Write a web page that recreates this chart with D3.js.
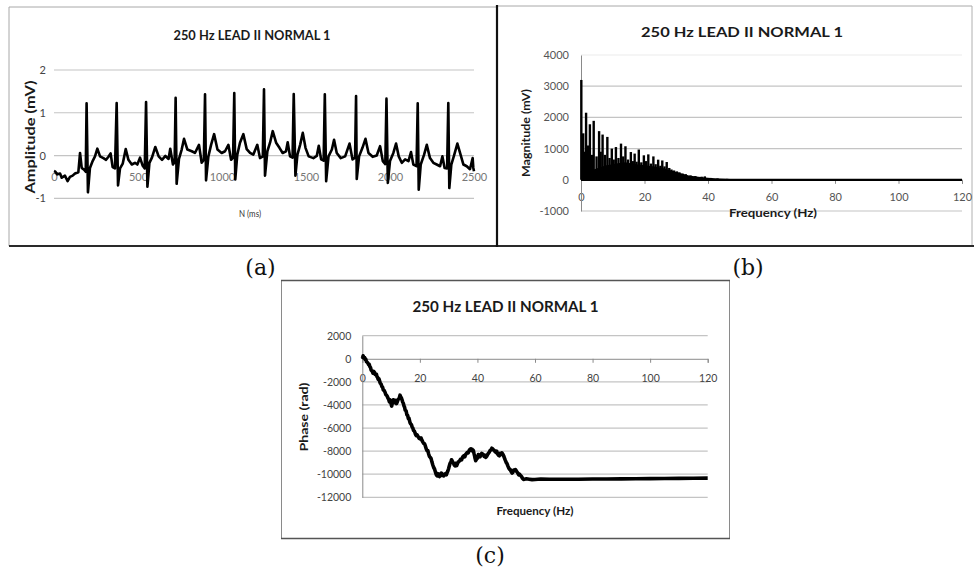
<!DOCTYPE html>
<html>
<head>
<meta charset="utf-8">
<script src="https://cdn.jsdelivr.net/npm/d3@7"></script>
<style>
  body { margin: 0; background: #fff; }
  svg text { font-family: Lato, "Open Sans", sans-serif; }
</style>
</head>
<body>
<div id="fig"></div>
<script>
// Set up the SVG container
var width = 974;
var height = 571;

var titleText = "250 Hz LEAD II NORMAL 1";

// (a) ECG trace, [sample N, amplitude mV]
var ecg = [
  [0,-0.36],[6,-0.37],[20,-0.44],[36,-0.42],[46,-0.52],[65,-0.47],[81,-0.6],[95,-0.5],[111,-0.47],[125,-0.42],
  [145,-0.39],[155,0.06],[165,-0.29],[179,-0.33],[189,-0.38],[194,1.22],[202,-0.86],[214,-0.29],[230,-0.13],
  [244,-0.02],[258,0.16],[274,-0.02],[294,-0.06],[310,-0.1],[324,-0.03],[337,0.05],[349,-0.27],[363,-0.3],
  [373,1.23],[381,-0.7],[393,-0.3],[409,-0.19],[427,0.15],[443,-0.1],[463,-0.21],[482,-0.17],[496,-0.21],
  [512,-0.05],[528,-0.24],[540,-0.3],[548,1.25],[556,-0.73],[568,-0.17],[583,-0.05],[603,0.2],[623,-0.02],
  [643,-0.1],[663,-0.01],[682,-0.08],[692,0.16],[708,-0.21],[718,-0.15],[724,1.35],[730,-0.66],[744,-0.08],
  [760,0.14],[774,0.39],[794,0.14],[820,0.1],[839,0.06],[863,0.25],[879,-0.17],[892,-0.1],[899,1.43],
  [905,-0.58],[919,-0.02],[935,0.25],[953,0.5],[973,0.14],[998,0.06],[1018,0.1],[1038,0.25],[1054,-0.1],
  [1066,-0.05],[1073,1.46],[1079,-0.56],[1091,0.02],[1107,0.3],[1127,0.5],[1147,0.15],[1167,0.06],[1186,0.02],
  [1210,0.25],[1226,-0.06],[1243,-0.02],[1250,1.55],[1256,-0.47],[1270,0.1],[1286,0.3],[1302,0.57],[1322,0.3],
  [1342,0.18],[1361,0.06],[1381,0.1],[1391,0.31],[1405,-0.02],[1420,-0.05],[1427,1.44],[1437,-0.47],[1449,0.02],
  [1465,0.25],[1481,0.53],[1497,0.18],[1516,-0.02],[1544,-0.06],[1564,-0.01],[1576,0.23],[1590,-0.09],
  [1605,-0.12],[1612,1.43],[1620,-0.6],[1634,-0.02],[1654,0.14],[1667,0.37],[1683,0.06],[1707,-0.06],
  [1733,-0.02],[1759,0.28],[1777,-0.09],[1792,-0.05],[1798,1.39],[1802,-0.55],[1816,-0.02],[1836,0.18],
  [1854,0.39],[1872,0.06],[1897,-0.03],[1921,0],[1941,0.22],[1957,-0.13],[1972,-0.2],[1979,1.33],[1987,-0.64],
  [2000,-0.13],[2020,0.06],[2036,0.28],[2052,-0.02],[2070,-0.17],[2090,-0.09],[2110,-0.13],[2125,0.08],
  [2139,-0.21],[2158,-0.25],[2165,1.22],[2171,-0.8],[2183,-0.21],[2203,0.02],[2219,0.25],[2238,-0.06],
  [2258,-0.17],[2278,-0.21],[2298,-0.25],[2312,-0.02],[2325,-0.29],[2340,-0.3],[2347,1.23],[2353,-0.76],
  [2365,-0.21],[2381,0],[2401,0.28],[2417,0.06],[2437,-0.21],[2457,-0.25],[2476,-0.32],[2492,-0.06],
  [2496,-0.29],[2500,-0.37]
];
var ecgTicksX = [0, 500, 1000, 1500, 2000, 2500];
var ecgTicksY = [-1, 0, 1, 2];

// (b) magnitude spectrum: spike tops [Hz, mV] and the dense floor under them
var spikes = [
  [0.1,3200],[0.7,1490],[1.1,900],[1.6,2150],[2.2,1100],[2.8,1780],[3.4,800],[4.0,1890],[4.9,750],
  [5.7,1560],[6.2,900],[6.8,1450],[7.5,800],[8.3,1375],[9.0,700],[9.7,1000],[10.3,650],[11.0,1050],
  [11.8,700],[12.6,1160],[13.3,750],[14.0,1075],[14.8,650],[15.7,890],[16.3,600],[16.9,840],[17.5,580],
  [18.2,970],[19.0,560],[19.8,785],[20.5,600],[21.2,815],[22.0,520],[22.8,750],[23.5,500],[24.3,645],
  [25.0,450],[25.6,620],[26.3,430],[27.0,570],[27.8,380],[28.5,330],[29.3,300],[30.2,270],[31.0,240],
  [32.0,200],[33.0,180],[34.5,140],[36,120],[38,100],[39,110],[41,60],[43,45],[46,30],[49,20]
];
var spikeFloor = [
  [0,300],[1,200],[2,230],[3,280],[4,330],[6,400],[8,470],[10,500],[12,540],[14,560],[16,520],[18,490],
  [20,470],[22,440],[24,410],[26,370],[28,310],[30,250],[32,190],[34,140],[37,95],[40,65],[43,45],
  [47,28],[52,14],[60,7],[80,5],[120,4]
];
var freqTicks = [0, 20, 40, 60, 80, 100, 120];
var magTicks = [-1000, 0, 1000, 2000, 3000, 4000];

// (c) phase [Hz, rad]
var phase = [
  [0,200],[0.15,120],[0.3,260],[0.55,80],[0.8,100],[1.0,-60],[1.2,-30],[1.45,-250],[1.7,-300],[1.95,-380],
  [2.2,-500],[2.4,-480],[2.6,-670],[2.85,-760],[3.1,-1000],[3.4,-1050],[3.7,-1250],[3.95,-1100],[4.2,-1150],
  [4.45,-1350],[4.7,-1400],[4.9,-1330],[5.1,-1550],[5.3,-1600],[5.5,-1780],[5.75,-1720],[6.0,-1900],
  [6.15,-2050],[6.3,-2130],[6.55,-2200],[6.8,-2400],[7.05,-2450],[7.3,-2700],[7.6,-2750],[7.9,-2900],
  [8.15,-3100],[8.4,-3150],[8.65,-3250],[8.9,-3400],[9.15,-3500],[9.4,-3730],[9.6,-3550],[9.8,-3600],
  [10.0,-3900],[10.2,-4100],[10.4,-3850],[10.6,-3800],[10.8,-3550],[11.0,-3590],[11.25,-3800],[11.5,-3750],
  [11.7,-3600],[11.9,-3880],[12.2,-3700],[12.5,-3500],[12.8,-3450],[13.1,-3150],[13.35,-3300],[13.6,-3400],
  [13.8,-3550],[14.0,-3730],[14.25,-3850],[14.5,-4100],[14.7,-4200],[14.9,-4460],[15.2,-4500],[15.5,-4850],
  [15.75,-4900],[16.0,-5190],[16.2,-5150],[16.4,-5350],[16.6,-5550],[16.8,-5630],[17.05,-5700],[17.3,-5900],
  [17.55,-6000],[17.8,-6210],[18.05,-6250],[18.3,-6400],[18.5,-6550],[18.7,-6650],[19.05,-6600],[19.4,-6750],
  [19.75,-6900],[20.1,-6940],[20.4,-6850],[20.7,-7050],[21.0,-7200],[21.3,-7320],[21.6,-7350],[21.9,-7550],
  [22.2,-7800],[22.5,-7960],[22.75,-7950],[23.0,-8200],[23.3,-8450],[23.6,-8540],[23.9,-8650],[24.2,-8950],
  [24.5,-9200],[24.8,-9420],[25.1,-9550],[25.4,-9800],[25.7,-10050],[26.0,-10150],[26.25,-9950],[26.5,-10050],
  [26.8,-10200],[27.1,-10000],[27.4,-9900],[27.7,-10100],[28.0,-10000],[28.3,-10150],[28.6,-10050],
  [28.9,-9950],[29.2,-10050],[29.5,-9850],[29.75,-9700],[30.0,-9500],[30.2,-9300],[30.4,-9130],[30.6,-9000],
  [30.8,-8950],[31.0,-8750],[31.2,-8830],[31.45,-8950],[31.7,-9050],[31.95,-9200],[32.2,-9270],[32.4,-9050],
  [32.6,-9100],[32.8,-9250],[33.0,-9130],[33.3,-8950],[33.6,-8900],[33.9,-8800],[34.2,-8690],[34.5,-8750],
  [34.8,-8550],[35.05,-8450],[35.3,-8400],[35.6,-8500],[35.9,-8300],[36.2,-8200],[36.5,-8100],[36.8,-8150],
  [37.1,-7950],[37.4,-7850],[37.7,-7810],[37.95,-7950],[38.2,-7850],[38.4,-7900],[38.6,-7960],[38.8,-8200],
  [39.0,-8400],[39.2,-8650],[39.4,-8830],[39.7,-8700],[40.0,-8600],[40.3,-8300],[40.6,-8400],[40.9,-8500],
  [41.2,-8300],[41.5,-8200],[41.8,-8250],[42.05,-8350],[42.3,-8450],[42.6,-8350],[42.9,-8540],[43.2,-8450],
  [43.5,-8300],[43.8,-8200],[44.1,-8100],[44.4,-7950],[44.7,-7900],[45.0,-7750],[45.3,-7810],[45.6,-7900],
  [45.9,-7950],[46.15,-8050],[46.4,-8100],[46.7,-8000],[47.0,-8250],[47.3,-8350],[47.6,-8400],[47.9,-8200],
  [48.2,-8300],[48.5,-8150],[48.8,-8250],[49.1,-8400],[49.4,-8600],[49.7,-8800],[50.0,-8980],[50.3,-9100],
  [50.6,-9300],[50.85,-9450],[51.1,-9560],[51.4,-9600],[51.7,-9750],[52.0,-9900],[52.3,-9850],[52.6,-9650],
  [52.9,-9650],[53.2,-9600],[53.5,-9710],[53.75,-9800],[54.0,-9900],[54.3,-10050],[54.6,-10000],
  [54.95,-10100],[55.3,-10200],[55.65,-10350],[56.0,-10450],[57,-10400],[58,-10430],[59,-10470],[60,-10460],
  [62,-10420],[65,-10440],[70,-10440],[75,-10430],[80,-10420],[85,-10410],[90,-10400],[95,-10390],
  [100,-10380],[105,-10370],[110,-10360],[115,-10350],[120,-10340]
];
var phaseTicks = [-12000, -10000, -8000, -6000, -4000, -2000, 0, 2000];

var svg = d3
  .select("#fig")
  .append("svg")
  .attr("width", width)
  .attr("height", height);

// scales, one set per panel
var xa = d3.scaleLinear().domain([0, 2500]).range([54, 474]);
var ya = d3.scaleLinear().domain([-1, 2]).range([198.3, 70]);
var xb = d3.scaleLinear().domain([0, 120]).range([581, 962]);
var yb = d3.scaleLinear().domain([-1000, 4000]).range([211, 55]);
var xc = d3.scaleLinear().domain([0, 120]).range([362.3, 707.7]);
var yc = d3.scaleLinear().domain([-12000, 2000]).range([497.3, 335.7]);

// plain numbers with a hyphen minus, as in the picture
var plain = (d) => String(d);

function line(x1, y1, x2, y2, color, w) {
  svg.append("line")
    .attr("x1", x1).attr("y1", y1).attr("x2", x2).attr("y2", y2)
    .attr("stroke", color).attr("stroke-width", w);
}

function label(txt, x, y, size, bold, len, rotate) {
  var t = svg.append("text")
    .attr("x", x).attr("y", y)
    .attr("text-anchor", "middle")
    .attr("font-size", size)
    .attr("font-weight", bold ? "bold" : "normal")
    .attr("fill", "#1a1a1a")
    .text(txt);
  if (len) t.attr("textLength", len).attr("lengthAdjust", "spacingAndGlyphs");
  if (rotate) t.attr("transform", "rotate(-90," + x + "," + y + ")");
  return t;
}

function grid(x, y, ticks, color) {
  svg.append("g")
    .selectAll("line")
    .data(ticks)
    .enter()
    .append("line")
    .attr("x1", x.range()[0])
    .attr("x2", x.range()[1])
    .attr("y1", (d) => y(d))
    .attr("y2", (d) => y(d))
    .attr("stroke", color)
    .attr("stroke-width", 1.2);
}

function styleAxis(g, size, color) {
  g.attr("font-family", null).attr("font-size", null);
  g.selectAll("text").attr("font-size", size).attr("fill", color);
  g.selectAll("line").attr("stroke", "#8a8a8a");
  g.select(".domain").attr("stroke", "#8a8a8a");
}

// frames around the three pictures
line(9, 7, 497, 7, "#a8a8a8", 1);
line(9, 7, 9, 246, "#a8a8a8", 1);
line(497, 6, 972, 6, "#a8a8a8", 1);
line(972, 6, 972, 246, "#b0b0b0", 1);
line(9, 246, 974, 246, "#2a2a2a", 2);
line(497, 5, 497, 247, "#111", 2.2);
svg.append("rect")
  .attr("x", 281.5).attr("y", 280.5).attr("width", 448).attr("height", 258)
  .attr("fill", "none").attr("stroke", "#8a8a8a").attr("stroke-width", 1);
line(281, 280.5, 730, 280.5, "#555", 1.3);
line(281, 538.5, 730, 538.5, "#555", 1.3);

// ---------- (a) amplitude ----------
grid(xa, ya, ecgTicksY, "#c4c4c4");
svg.append("g")
  .attr("transform", "translate(0," + ya(0) + ")")
  .call(d3.axisBottom(xa).tickValues(ecgTicksX).tickFormat(plain).tickSize(0).tickPadding(18))
  .call((g) => g.select(".domain").remove())
  .call((g) => styleAxis(g, 11, "#777"));
svg.append("g")
  .attr("transform", "translate(" + xa(0) + ",0)")
  .call(d3.axisLeft(ya).tickValues(ecgTicksY).tickFormat(plain).tickSize(0).tickPadding(8))
  .call((g) => g.select(".domain").remove())
  .call((g) => styleAxis(g, 11, "#444"));

svg.append("path")
  .datum(ecg)
  .attr("fill", "none")
  .attr("stroke", "#000")
  .attr("stroke-width", 2.6)
  .attr("stroke-linejoin", "round")
  .attr("d", d3.line().x((d) => xa(d[0])).y((d) => ya(d[1])));

label(titleText, 252, 40, 13, true, 157);
label("Amplitude (mV)", 35, 137, 13, true, 113, true);
label("N (ms)", 250, 217, 10, false, 22).attr("fill", "#333");

// ---------- (b) magnitude ----------
grid(xb, yb, [-1000, 1000, 2000, 3000], "#c4c4c4");
grid(xb, yb, [4000], "#ececec");
svg.append("g")
  .attr("transform", "translate(0," + yb(0) + ")")
  .call(d3.axisBottom(xb).tickValues(freqTicks).tickFormat(plain).tickSize(4).tickPadding(9))
  .call((g) => styleAxis(g, 11, "#555"));
svg.append("g")
  .attr("transform", "translate(" + xb(0) + ",0)")
  .call(d3.axisLeft(yb).tickValues(magTicks).tickFormat(plain).tickSize(0).tickPadding(12))
  .call((g) => styleAxis(g, 11, "#555"));

svg.append("path")
  .datum(spikeFloor)
  .attr("fill", "#000")
  .attr("d", d3.area().x((d) => xb(d[0])).y0(yb(0)).y1((d) => yb(d[1])));

svg.append("g")
  .selectAll("line")
  .data(spikes)
  .enter()
  .append("line")
  .attr("x1", (d) => xb(d[0]))
  .attr("x2", (d) => xb(d[0]))
  .attr("y1", yb(0))
  .attr("y2", (d) => yb(d[1]))
  .attr("stroke", "#000")
  .attr("stroke-width", 2.4);

line(xb(0), yb(0), xb(120), yb(0), "#000", 2.2);

label(titleText, 742, 37, 14, true, 202);
label("Magnitude (mV)", 530, 133, 11, true, 88, true);
label("Frequency (Hz)", 773, 217, 11, true, 88);

// ---------- (c) phase ----------
grid(xc, yc, phaseTicks.filter((d) => d !== 0), "#c4c4c4");
svg.append("g")
  .attr("transform", "translate(0," + yc(0) + ")")
  .call(d3.axisBottom(xc).tickValues(freqTicks).tickFormat(plain).tickSize(4).tickPadding(12))
  .call((g) => styleAxis(g, 10.5, "#444"));
svg.append("g")
  .attr("transform", "translate(" + xc(0) + ",0)")
  .call(d3.axisLeft(yc).tickValues(phaseTicks).tickFormat(plain).tickSize(0).tickPadding(11))
  .call((g) => styleAxis(g, 10.5, "#444"));

svg.append("path")
  .datum(phase)
  .attr("fill", "none")
  .attr("stroke", "#000")
  .attr("stroke-width", 3.6)
  .attr("stroke-linejoin", "round")
  .attr("d", d3.line().x((d) => xc(d[0])).y((d) => yc(d[1])));

label(titleText, 505.5, 312, 15, true, 186);
label("Phase (rad)", 308, 417, 11, true, 69, true);
label("Frequency (Hz)", 535, 515, 10.5, true, 77);

// sub-figure captions
svg.selectAll(".cap")
  .data([["(a)", 260.5, 275], ["(b)", 748, 275], ["(c)", 490, 563]])
  .enter()
  .append("text")
  .attr("class", "cap")
  .attr("x", (d) => d[1])
  .attr("y", (d) => d[2])
  .attr("text-anchor", "middle")
  .attr("font-size", 22)
  .style("font-family", "'DejaVu Serif', serif")
  .attr("fill", "#111")
  .text((d) => d[0]);
</script>
</body>
</html>
